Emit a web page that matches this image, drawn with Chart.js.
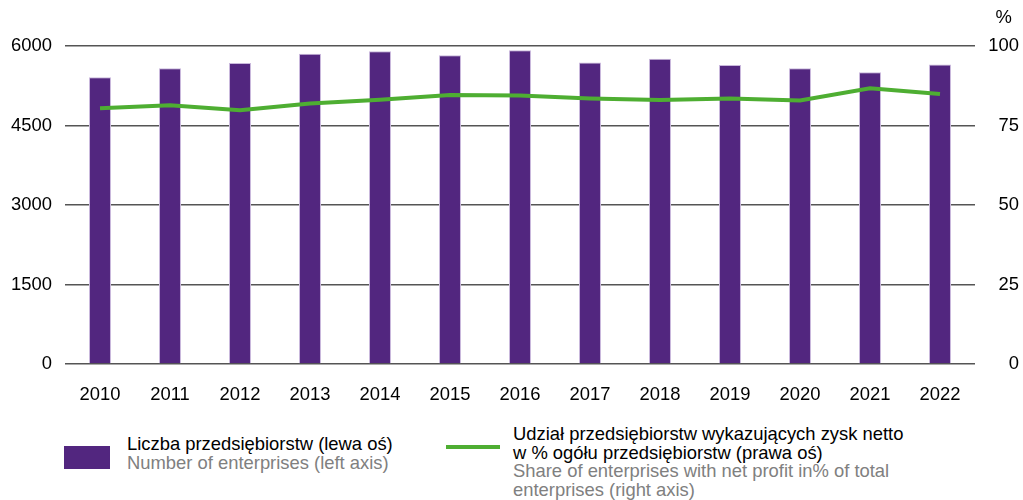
<!DOCTYPE html>
<html>
<head>
<meta charset="utf-8">
<script src="https://cdn.jsdelivr.net/npm/chart.js@4.4.1/dist/chart.umd.min.js"></script>
<style>
    body { margin: 0; background: #fff; font-family: "Liberation Sans", Arial, sans-serif; }
    #wrap { position: relative; width: 1023px; height: 500px; overflow: hidden; }
    #chart { position: absolute; left: 0; top: 0; }
    .legend-box { position: absolute; font-size: 18.4px; line-height: 18.7px; white-space: nowrap; }
    .pl { color: #000; }
    .en { color: #808080; }
    .swatch { position: absolute; }
</style>
</head>
<body>
<div id="wrap">
    <canvas id="chart" width="1023" height="410"></canvas>

    <div class="swatch" style="left:64px;top:446px;width:46px;height:23px;background:#52267f;"></div>
    <div class="legend-box" style="left:127px;top:435px;">
        <div class="pl">Liczba przedsiębiorstw (lewa oś)</div>
        <div class="en">Number of enterprises (left axis)</div>
    </div>

    <div class="swatch" style="left:446px;top:445px;width:54px;height:4px;background:#4eae32;"></div>
    <div class="legend-box" style="left:513px;top:425px;">
        <div class="pl">Udział przedsiębiorstw wykazujących zysk netto</div>
        <div class="pl">w % ogółu przedsiębiorstw (prawa oś)</div>
        <div class="en">Share of enterprises with net profit in% of total</div>
        <div class="en">enterprises (right axis)</div>
    </div>
</div>

<script>
const years = ['2010', '2011', '2012', '2013', '2014', '2015', '2016',
    '2017', '2018', '2019', '2020', '2021', '2022'];

// liczba przedsiebiorstw (lewa os)
const enterprises = [5410, 5580, 5680, 5855, 5900, 5825, 5920,
    5690, 5760, 5640, 5580, 5505, 5650];

// udzial z zyskiem netto, % (prawa os)
const profitShare = [80.4, 81.4, 79.8, 81.9, 83.1, 84.6, 84.4,
    83.5, 83.0, 83.5, 82.9, 86.7, 84.9];

const leftTicks = [0, 1500, 3000, 4500, 6000];
const rightTicks = [0, 25, 50, 75, 100];

const purple = '#52267f';
const green = '#4eae32';
const tickFont = { family: '"Liberation Sans", Arial, sans-serif', size: 18.4 };

// "%" nad prawa osia
const percentLabel = {
    id: 'percentLabel',
    afterDraw(chart) {
        const ctx = chart.ctx;
        const scale = chart.scales.y1;
        ctx.save();
        ctx.font = '18.4px "Liberation Sans", Arial, sans-serif';
        const w = ctx.measureText('100').width;
        ctx.fillStyle = '#000';
        ctx.textAlign = 'center';
        ctx.textBaseline = 'middle';
        ctx.fillText('%', scale.right - w / 2, 18);
        ctx.restore();
    }
};

const data_combo = {
    labels: years,
    datasets: [{
        type: 'line',
        label: 'Udział przedsiębiorstw wykazujących zysk netto',
        data: profitShare,
        yAxisID: 'y1',
        borderColor: green,
        backgroundColor: green,
        borderWidth: 4,
        pointRadius: 0,
        tension: 0,
        order: 0
    }, {
        type: 'bar',
        label: 'Liczba przedsiębiorstw',
        data: enterprises,
        yAxisID: 'y',
        backgroundColor: purple,
        borderColor: '#c9b8dc',
        borderWidth: 1,
        categoryPercentage: 1,
        barPercentage: 0.314,
        order: 1
    }]
};

const config_combo = {
    data: data_combo,
    options: {
        responsive: false,
        animation: false,
        layout: {
            padding: { top: 46, right: 4, left: 0, bottom: 0 }
        },
        scales: {
            x: {
                grid: { display: false },
                border: { display: false },
                ticks: {
                    color: '#000',
                    font: tickFont,
                    padding: 12,
                    maxRotation: 0
                },
                afterFit: (scale) => { scale.height = 46; }
            },
            y: {
                position: 'left',
                min: 0,
                max: 6000,
                afterBuildTicks: (scale) => { scale.ticks = leftTicks.map(v => ({ value: v })); },
                grid: {
                    color: '#555',
                    lineWidth: 1.5,
                    drawTicks: false
                },
                border: { display: false },
                ticks: {
                    color: '#000',
                    font: tickFont,
                    padding: 13,
                    callback: (v) => String(v)
                },
                afterFit: (scale) => { scale.width = 65; }
            },
            y1: {
                position: 'right',
                min: 0,
                max: 100,
                afterBuildTicks: (scale) => { scale.ticks = rightTicks.map(v => ({ value: v })); },
                grid: { display: false, drawTicks: false },
                border: { display: false },
                ticks: {
                    color: '#000',
                    font: tickFont,
                    padding: 12,
                    crossAlign: 'far',
                    callback: (v) => String(v)
                },
                afterFit: (scale) => { scale.width = 44; }
            }
        },
        plugins: {
            legend: { display: false },
            tooltip: { enabled: false },
            title: { display: false }
        }
    },
    plugins: [percentLabel]
};

const myChart_Combo = new Chart(
    document.getElementById('chart'),
    config_combo
);
</script>
</body>
</html>
